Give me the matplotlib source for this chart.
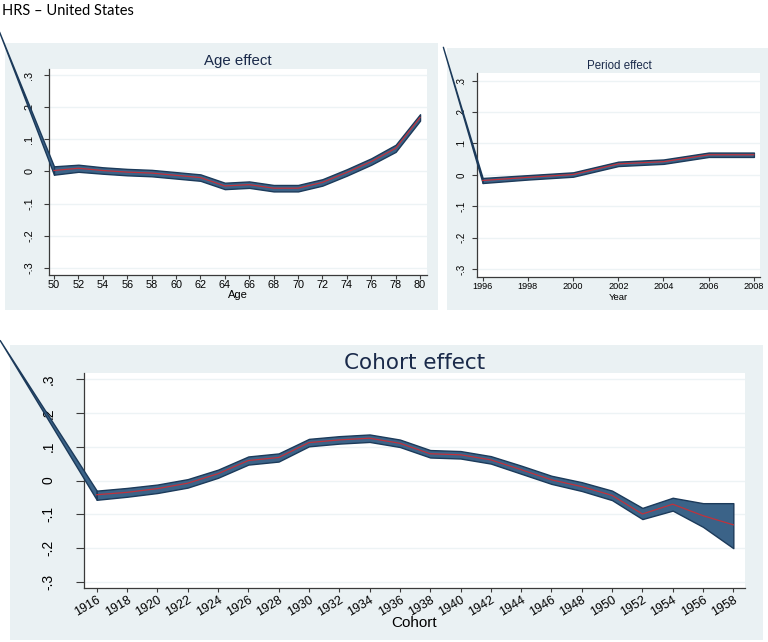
import matplotlib
matplotlib.use("Agg")
import matplotlib.pyplot as plt
from matplotlib.patches import Rectangle
import numpy as np

# ---------------- data ----------------
age = [50, 52, 54, 56, 58, 60, 62, 64, 66, 68, 70, 72, 74, 76, 78, 80]
age_est = [0.003, 0.010, 0.003, -0.002, -0.005, -0.012, -0.019, -0.045,
           -0.041, -0.052, -0.052, -0.034, -0.003, 0.031, 0.072, 0.168]
age_hw = [0.013, 0.011, 0.010, 0.010, 0.010, 0.010, 0.010, 0.010,
          0.010, 0.010, 0.010, 0.010, 0.010, 0.010, 0.011, 0.010]
age_lead = (45.5, 0.435)

year = [1996, 1998, 2000, 2002, 2004, 2006, 2008]
year_est = [-0.018, -0.008, 0.001, 0.035, 0.042, 0.064, 0.064]
year_hw = [0.008, 0.007, 0.007, 0.007, 0.007, 0.007, 0.007]
year_lead = (1994.24, 0.408)

cohort = list(range(1916, 1960, 2))
cohort_est = [-0.042, -0.035, -0.024, -0.008, 0.020, 0.059, 0.068, 0.112,
              0.120, 0.125, 0.110, 0.079, 0.076, 0.061, 0.032, 0.002,
              -0.018, -0.044, -0.099, -0.070, -0.104, -0.131]
cohort_lo = [-0.057, -0.048, -0.037, -0.021, 0.008, 0.047, 0.056, 0.101,
             0.109, 0.114, 0.099, 0.068, 0.065, 0.050, 0.020, -0.010,
             -0.031, -0.058, -0.114, -0.089, -0.137, -0.200]
cohort_hi = [-0.030, -0.022, -0.012, 0.004, 0.032, 0.071, 0.080, 0.123,
             0.131, 0.136, 0.121, 0.090, 0.087, 0.072, 0.044, 0.014,
             -0.005, -0.030, -0.081, -0.051, -0.067, -0.067]
cohort_lead = (1909.6, 0.415)

yticks = [-0.3, -0.2, -0.1, 0, 0.1, 0.2, 0.3]
ytick_labels = ["-.3", "-.2", "-.1", "0", ".1", ".2", ".3"]

# ---------------- style ----------------
W, H = 768, 642
BG = "#eaf1f3"
BAND = "#3b6388"
EDGE = "#1c3a5a"
RED = "#c0323c"
AXC = "#3a3a3a"
GRID = "#edf3f5"
FONT = "Liberation Sans"

fig = plt.figure(figsize=(W / 100, H / 100), dpi=100)
fig.patch.set_facecolor("white")


def px_rect(x0, y0, x1, y1):
    return [x0 / W, 1 - y1 / H, (x1 - x0) / W, (y1 - y0) / H]


def add_bg(x0, y0, x1, y1):
    r = Rectangle((x0 / W, 1 - y1 / H), (x1 - x0) / W, (y1 - y0) / H,
                  transform=fig.transFigure, facecolor=BG, edgecolor="none",
                  zorder=-10)
    fig.patches.append(r)


def panel(rect, x, est, lo, hi, lead, xlim, ylim, xticks, xlabel,
          xtick_fs, ytick_fs, ypad, ylen, xpad, xlen, title, title_xy,
          title_fs, xlabel_fs, xlabel_top, rot=0, title_family=FONT):
    ax = fig.add_axes(px_rect(*rect))
    ax.set_zorder(1)
    ax.set_facecolor("white")
    ax.set_xlim(*xlim)
    ax.set_ylim(*ylim)
    # lead-in segment (extends outside the plot region)
    xs = [lead[0], x[0]]
    ax.fill_between(xs, [lead[1], hi[0]], [lead[1], lo[0]], facecolor=BAND,
                    edgecolor=EDGE, linewidth=1.0, clip_on=False, zorder=3)
    ax.fill_between(x, hi, lo, facecolor=BAND, edgecolor=EDGE,
                    linewidth=1.0, zorder=3)
    ax.plot(x, est, color=RED, linewidth=0.9, zorder=4)
    for s in ["top", "right"]:
        ax.spines[s].set_visible(False)
    for s in ["left", "bottom"]:
        ax.spines[s].set_color(AXC)
        ax.spines[s].set_linewidth(0.9)
    ax.set_yticks(yticks)
    ax.set_yticklabels(ytick_labels, rotation=90, va="center",
                       fontsize=ytick_fs, family=FONT)
    ax.set_xticks(xticks)
    if rot:
        ax.set_xticklabels([str(v) for v in xticks], rotation=rot,
                           ha="right", va="top", rotation_mode="anchor",
                           fontsize=xtick_fs, family=FONT)
    else:
        ax.set_xticklabels([str(v) for v in xticks], fontsize=xtick_fs,
                           family=FONT)
    ax.tick_params(axis="x", direction="out", length=xlen, width=0.8,
                   color=AXC, labelcolor="black", pad=xpad)
    ax.tick_params(axis="y", direction="out", length=ylen, width=0.8,
                   color=AXC, labelcolor="black", pad=ypad)
    ax.grid(axis="y", color=GRID, linewidth=1.0, zorder=0)
    ax.set_axisbelow(True)
    cx = (rect[0] + rect[2]) / 2
    fig.text(cx / W, 1 - xlabel_top / H, xlabel, ha="center", va="top",
             fontsize=xlabel_fs, family=FONT)
    fig.text(title_xy[0] / W, 1 - title_xy[1] / H, title, ha="center",
             va="center", fontsize=title_fs, family=title_family,
             color="#1a2a4a")
    return ax


# backgrounds
add_bg(5, 43, 438, 310)
add_bg(447, 48, 768, 310)
add_bg(10, 345, 763, 640)

# Age panel
a_lo = [e - h for e, h in zip(age_est, age_hw)]
a_hi = [e + h for e, h in zip(age_est, age_hw)]
panel((49, 69, 427, 275), age, age_est, a_lo, a_hi, age_lead,
      (49.59, 80.57), (-0.322, 0.3187), age, "Age", 7.8, 7.8, 7.0, 3.5,
      0.8, 3.0, "Age effect", (238, 61), 10.8, 8.0, 290.5)

# Period panel
p_lo = [e - h for e, h in zip(year_est, year_hw)]
p_hi = [e + h for e, h in zip(year_est, year_hw)]
panel((477, 73, 760, 277), year, year_est, p_lo, p_hi, year_lead,
      (1995.75, 2008.27), (-0.3255, 0.3245), year, "Year", 6.6, 7.0, 4.0,
      3.5, 0.5, 3.0, "Period effect", (619, 66), 8.3, 6.8, 293.0)

# Cohort panel
panel((84, 373, 745, 588), cohort, cohort_est, cohort_lo, cohort_hi,
      cohort_lead, (1915.16, 1958.77), (-0.3177, 0.3177), cohort, "Cohort",
      9.0, 10.0, 15.0, 5.5, 1.0, 3.0, "Cohort effect", (415, 363), 15.5,
      11.0, 616.0, rot=31, title_family="DejaVu Sans")

fig.text(2 / W, 1 - 11 / H, "HRS \u2013 United States", ha="left",
         va="center", fontsize=10.5, family="Lato", color="black")

fig.savefig("out.png", dpi=100, facecolor="white")
